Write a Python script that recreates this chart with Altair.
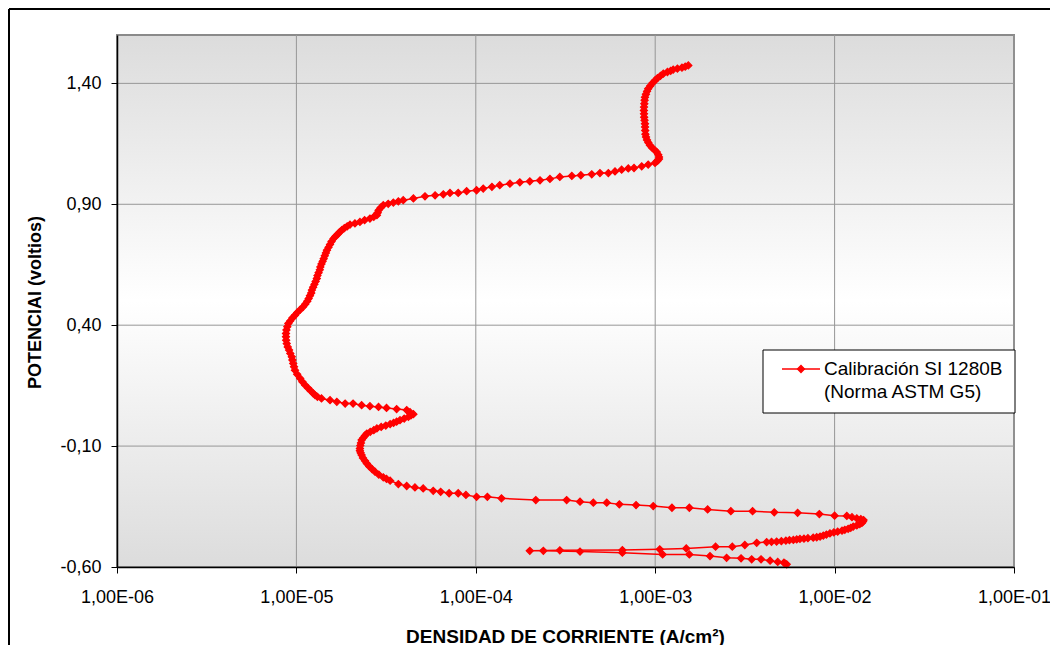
import altair as alt
import pandas as pd

# Current density (A/cm2) and potential (V), in scan order,
# split into the branches of the polarization curve.
cur_cathodic = [5.41e-3, 5.30e-3, 5.22e-3, 4.82e-3, 4.37e-3, 3.89e-3, 3.45e-3, 3.01e-3, 2.50e-3,
                2.02e-3, 1.55e-3, 1.10e-3, 6.56e-4, 3.81e-4, 2.38e-4, 2.00e-4]
pot_cathodic = [-0.589, -0.586, -0.582, -0.579, -0.574, -0.568, -0.568, -0.564, -0.562,
                -0.555, -0.548, -0.548, -0.541, -0.536, -0.533, -0.533]

cur_active = [2.94e-4, 6.56e-4, 1.06e-3, 1.49e-3, 2.17e-3, 2.69e-3, 3.16e-3, 3.68e-3, 4.18e-3,
              4.45e-3, 4.75e-3, 5.05e-3, 5.35e-3, 5.60e-3, 5.89e-3, 6.15e-3, 6.41e-3, 6.75e-3,
              7.10e-3, 7.60e-3, 7.95e-3, 8.30e-3, 8.65e-3, 9.00e-3, 9.42e-3, 9.90e-3, 1.04e-2,
              1.10e-2, 1.14e-2, 1.19e-2, 1.23e-2, 1.27e-2, 1.33e-2, 1.38e-2, 1.42e-2, 1.44e-2, 1.45e-2]
pot_active = [-0.531, -0.530, -0.527, -0.523, -0.516, -0.516, -0.509, -0.500, -0.497,
              -0.496, -0.495, -0.493, -0.491, -0.489, -0.488, -0.486, -0.484, -0.483,
              -0.481, -0.479, -0.477, -0.474, -0.470, -0.466, -0.461, -0.457, -0.454,
              -0.450, -0.446, -0.442, -0.438, -0.433, -0.428, -0.423, -0.418, -0.412, -0.406]

cur_passivation = [1.40e-2, 1.33e-2, 1.25e-2, 1.17e-2, 1.00e-2, 8.22e-3, 6.22e-3, 4.61e-3, 3.49e-3,
                   2.64e-3, 1.96e-3, 1.55e-3, 1.24e-3, 9.75e-4, 7.82e-4, 6.31e-4, 5.37e-4, 4.52e-4,
                   3.81e-4, 3.21e-4, 2.16e-4, 1.39e-4, 1.16e-4]
pot_passivation = [-0.402, -0.399, -0.394, -0.389, -0.388, -0.381, -0.376, -0.374, -0.369,
                   -0.369, -0.362, -0.355, -0.355, -0.348, -0.344, -0.341, -0.334, -0.334,
                   -0.330, -0.323, -0.323, -0.316, -0.310]

cur_loop = [1.01e-4, 8.81e-5, 7.98e-5, 7.10e-5, 6.37e-5, 5.79e-5, 5.09e-5, 4.58e-5, 4.12e-5, 3.70e-5,
            3.33e-5, 3.18e-5, 3.05e-5, 2.88e-5, 2.74e-5, 2.64e-5, 2.55e-5, 2.47e-5, 2.41e-5, 2.35e-5,
            2.31e-5, 2.28e-5, 2.26e-5, 2.26e-5, 2.27e-5, 2.29e-5, 2.31e-5, 2.36e-5, 2.41e-5, 2.47e-5,
            2.58e-5, 2.70e-5, 2.81e-5, 2.97e-5, 3.15e-5, 3.33e-5, 3.48e-5, 3.62e-5, 3.78e-5, 3.99e-5,
            4.21e-5, 4.35e-5, 4.49e-5]
pot_loop = [-0.310, -0.302, -0.295, -0.295, -0.289, -0.285, -0.275, -0.271, -0.265, -0.257,
            -0.243, -0.236, -0.229, -0.218, -0.206, -0.195, -0.184, -0.172, -0.161, -0.149,
            -0.137, -0.128, -0.119, -0.110, -0.098, -0.087, -0.075, -0.066, -0.057, -0.048,
            -0.041, -0.034, -0.027, -0.021, -0.015, -0.009, -0.004, 0.001, 0.007, 0.014,
            0.021, 0.027, 0.032]

cur_passive = [4.30e-5, 4.12e-5, 3.62e-5, 3.18e-5, 2.87e-5, 2.57e-5, 2.31e-5, 2.07e-5, 1.87e-5, 1.68e-5,
               1.54e-5, 1.38e-5, 1.31e-5, 1.27e-5, 1.24e-5, 1.20e-5, 1.16e-5, 1.12e-5, 1.08e-5, 1.05e-5,
               1.01e-5, 9.82e-6, 9.70e-6, 9.60e-6, 9.50e-6, 9.42e-6, 9.25e-6, 9.10e-6, 8.95e-6, 8.83e-6,
               8.77e-6, 8.75e-6, 8.75e-6, 8.80e-6, 8.90e-6, 9.02e-6, 9.25e-6, 9.50e-6, 9.82e-6, 1.01e-5,
               1.05e-5, 1.09e-5, 1.12e-5, 1.15e-5, 1.17e-5, 1.19e-5, 1.21e-5, 1.22e-5, 1.24e-5, 1.26e-5,
               1.28e-5, 1.30e-5, 1.31e-5, 1.33e-5, 1.35e-5, 1.36e-5, 1.38e-5, 1.40e-5, 1.42e-5, 1.44e-5,
               1.46e-5, 1.48e-5, 1.51e-5, 1.54e-5, 1.57e-5, 1.61e-5, 1.65e-5, 1.70e-5, 1.74e-5, 1.79e-5,
               1.85e-5, 1.92e-5, 1.99e-5, 2.12e-5, 2.26e-5, 2.40e-5, 2.57e-5, 2.70e-5, 2.81e-5, 2.84e-5,
               2.87e-5, 2.95e-5, 3.05e-5, 3.25e-5, 3.47e-5, 3.70e-5, 3.94e-5, 4.49e-5, 5.21e-5, 5.93e-5,
               6.59e-5, 7.18e-5, 7.98e-5, 8.89e-5, 1.01e-4, 1.10e-4, 1.23e-4, 1.36e-4, 1.55e-4, 1.76e-4,
               2.00e-4, 2.28e-4, 2.59e-4, 2.94e-4, 3.43e-4, 3.85e-4, 4.43e-4, 4.92e-4, 5.48e-4, 5.97e-4,
               6.50e-4, 7.08e-4, 7.62e-4, 8.41e-4, 9.14e-4, 9.98e-4]
pot_passive = [0.040, 0.049, 0.053, 0.058, 0.062, 0.065, 0.069, 0.076, 0.076, 0.083,
               0.090, 0.097, 0.104, 0.111, 0.118, 0.129, 0.140, 0.152, 0.166, 0.180,
               0.197, 0.214, 0.228, 0.242, 0.256, 0.269, 0.283, 0.297, 0.310, 0.324,
               0.338, 0.352, 0.366, 0.380, 0.394, 0.407, 0.418, 0.430, 0.441, 0.452,
               0.464, 0.476, 0.487, 0.499, 0.510, 0.522, 0.533, 0.545, 0.557, 0.569,
               0.581, 0.593, 0.605, 0.617, 0.629, 0.641, 0.653, 0.664, 0.675, 0.687,
               0.699, 0.710, 0.722, 0.734, 0.746, 0.758, 0.767, 0.776, 0.785, 0.793,
               0.801, 0.809, 0.816, 0.821, 0.827, 0.834, 0.841, 0.848, 0.855, 0.865,
               0.875, 0.886, 0.896, 0.902, 0.907, 0.912, 0.917, 0.924, 0.933, 0.937,
               0.941, 0.947, 0.947, 0.954, 0.958, 0.965, 0.972, 0.979, 0.985, 0.991,
               0.995, 0.999, 1.005, 1.013, 1.017, 1.020, 1.024, 1.029, 1.029, 1.036,
               1.043, 1.048, 1.050, 1.057, 1.064, 1.071]

cur_transpassive = [1.03e-3, 1.05e-3, 1.05e-3, 1.04e-3, 1.02e-3, 9.90e-4, 9.60e-4, 9.35e-4, 9.15e-4, 9.00e-4,
                    8.89e-4, 8.82e-4, 8.80e-4, 8.78e-4, 8.77e-4, 8.72e-4, 8.68e-4, 8.66e-4, 8.65e-4, 8.66e-4,
                    8.70e-4, 8.73e-4, 8.77e-4, 8.88e-4, 9.00e-4, 9.14e-4, 9.40e-4, 9.65e-4, 9.98e-4, 1.03e-3,
                    1.07e-3, 1.11e-3, 1.17e-3, 1.22e-3, 1.26e-3, 1.33e-3, 1.41e-3, 1.47e-3, 1.53e-3]
pot_transpassive = [1.080, 1.087, 1.095, 1.105, 1.116, 1.125, 1.134, 1.144, 1.155, 1.166,
                    1.178, 1.190, 1.205, 1.220, 1.233, 1.247, 1.260, 1.274, 1.288, 1.302,
                    1.316, 1.330, 1.343, 1.355, 1.367, 1.378, 1.390, 1.401, 1.412, 1.422,
                    1.431, 1.440, 1.447, 1.452, 1.457, 1.461, 1.465, 1.469, 1.474]

branches = [
    (cur_cathodic, pot_cathodic), (cur_active, pot_active), (cur_passivation, pot_passivation),
    (cur_loop, pot_loop), (cur_passive, pot_passive), (cur_transpassive, pot_transpassive),
]
current, potential = [], []
for c, p in branches:
    assert len(c) == len(p), (len(c), len(p))
    current += c
    potential += p

x_ticks = [1e-6, 1e-5, 1e-4, 1e-3, 1e-2, 1e-1]
y_ticks = [-0.6, -0.1, 0.4, 0.9, 1.4]
x_domain = [1e-6, 1e-1]
y_domain = [-0.6, 1.6]
series_label = ["Calibración SI 1280B", "(Norma ASTM G5)"]
x_title = "DENSIDAD DE CORRIENTE (A/cm²)"
y_title = "POTENCIAl (voltios)"

FONT = "Liberation Sans"
RED = "#ff0000"
W, H = 897, 532

df = pd.DataFrame({"i": list(range(len(current))), "current": current, "potential": potential})

xs = alt.Scale(type="log", domain=x_domain, nice=False)
ys = alt.Scale(domain=y_domain, nice=False, zero=False)

x_axis = alt.Axis(
    values=x_ticks, grid=False, zindex=1,
    labelExpr="'1,00E-0' + format(-log(datum.value) / LN10, '.0f')",
    labelFont=FONT, labelFontSize=18, labelColor="black", labelPadding=15,
    labelFlush=False, labelOverlap=False,
    domainColor="black", domainWidth=1.5, tickColor="black", tickSize=6, tickWidth=1,
    title=x_title, titleFont=FONT, titleFontSize=19, titleFontWeight="bold", titleColor="black",
    titleX=448, titleY=69, titleAlign="center", titleBaseline="middle", titleAngle=0,
)
y_axis = alt.Axis(
    values=y_ticks, grid=False, zindex=1,
    labelExpr="(datum.value < 0 ? '-' : '') + replace(format(abs(datum.value), '.2f'), '.', ',')",
    labelFont=FONT, labelFontSize=18, labelColor="black", labelPadding=10,
    labelOverlap=False,
    domainColor="black", domainWidth=1.5, tickColor="black", tickSize=6, tickWidth=1,
    title=y_title, titleFont=FONT, titleFontSize=18, titleFontWeight="bold", titleColor="black",
    titleX=-82, titleY=267, titleAlign="center", titleBaseline="middle", titleAngle=270,
)

gradient = alt.LinearGradient(
    gradient="linear", x1=0, x2=0, y1=0, y2=1,
    stops=[
        alt.GradientStop(offset=0, color="#dcdcdc"),
        alt.GradientStop(offset=0.5, color="#ffffff"),
        alt.GradientStop(offset=1, color="#dcdcdc"),
    ],
)

bg = alt.Chart(pd.DataFrame({
    "current": [x_domain[0]], "current2": [x_domain[1]],
    "potential": [y_domain[0]], "potential2": [y_domain[1]],
})).mark_rect(fill=gradient, stroke="#8a8a8a", strokeWidth=2).encode(
    x=alt.X("current:Q", scale=xs, axis=x_axis),
    x2="current2:Q",
    y=alt.Y("potential:Q", scale=ys, axis=y_axis),
    y2="potential2:Q",
)

vgrid = alt.Chart(pd.DataFrame({"current": x_ticks})).mark_rule(color="#969696", strokeWidth=1).encode(
    x=alt.X("current:Q", scale=xs)
)
hgrid = alt.Chart(pd.DataFrame({"potential": y_ticks})).mark_rule(color="#969696", strokeWidth=1).encode(
    y=alt.Y("potential:Q", scale=ys)
)

curve = alt.Chart(df).mark_line(
    color=RED, strokeWidth=1.5,
    point=alt.OverlayMarkDef(shape="diamond", size=50, filled=True, color=RED,
                             stroke=RED, strokeWidth=1.2, opacity=1),
).encode(
    x=alt.X("current:Q", scale=xs),
    y=alt.Y("potential:Q", scale=ys),
    order="i:Q",
)

one = pd.DataFrame({"k": [0]})
leg_box = alt.Chart(one).mark_rect(fill="white", stroke="black", strokeWidth=1).encode(
    x=alt.value(646), x2=alt.value(898), y=alt.value(315), y2=alt.value(378)
)
leg_line = alt.Chart(one).mark_rule(color=RED, strokeWidth=1.5).encode(
    x=alt.value(665), x2=alt.value(703), y=alt.value(334)
)
leg_pt = alt.Chart(one).mark_point(shape="diamond", size=50, filled=True, color=RED,
                                   stroke=RED, strokeWidth=1.2, opacity=1).encode(
    x=alt.value(684), y=alt.value(334)
)
leg_t1 = alt.Chart(pd.DataFrame({"t": [series_label[0]]})).mark_text(
    align="left", baseline="middle", font=FONT, fontSize=19, color="black"
).encode(x=alt.value(707), y=alt.value(334), text="t:N")
leg_t2 = alt.Chart(pd.DataFrame({"t": [series_label[1]]})).mark_text(
    align="left", baseline="middle", font=FONT, fontSize=19, color="black"
).encode(x=alt.value(707), y=alt.value(357), text="t:N")

frame_top = alt.Chart(one).mark_rule(color="black", strokeWidth=2).encode(
    x=alt.value(-108), x2=alt.value(W + 36), y=alt.value(-26)
)
frame_left = alt.Chart(one).mark_rule(color="black", strokeWidth=2).encode(
    x=alt.value(-108), y=alt.value(-26), y2=alt.value(H + 78)
)

chart = alt.layer(
    bg, vgrid, hgrid, curve, leg_box, leg_line, leg_pt, leg_t1, leg_t2, frame_top, frame_left
).properties(
    width=W, height=H,
    autosize=alt.AutoSizeParams(type="none"),
    padding={"left": 109, "top": 27, "right": 36, "bottom": 78},
    background="white",
).configure_view(strokeWidth=0)

chart.save("out.html", embed_options={"renderer": "svg", "actions": False})
